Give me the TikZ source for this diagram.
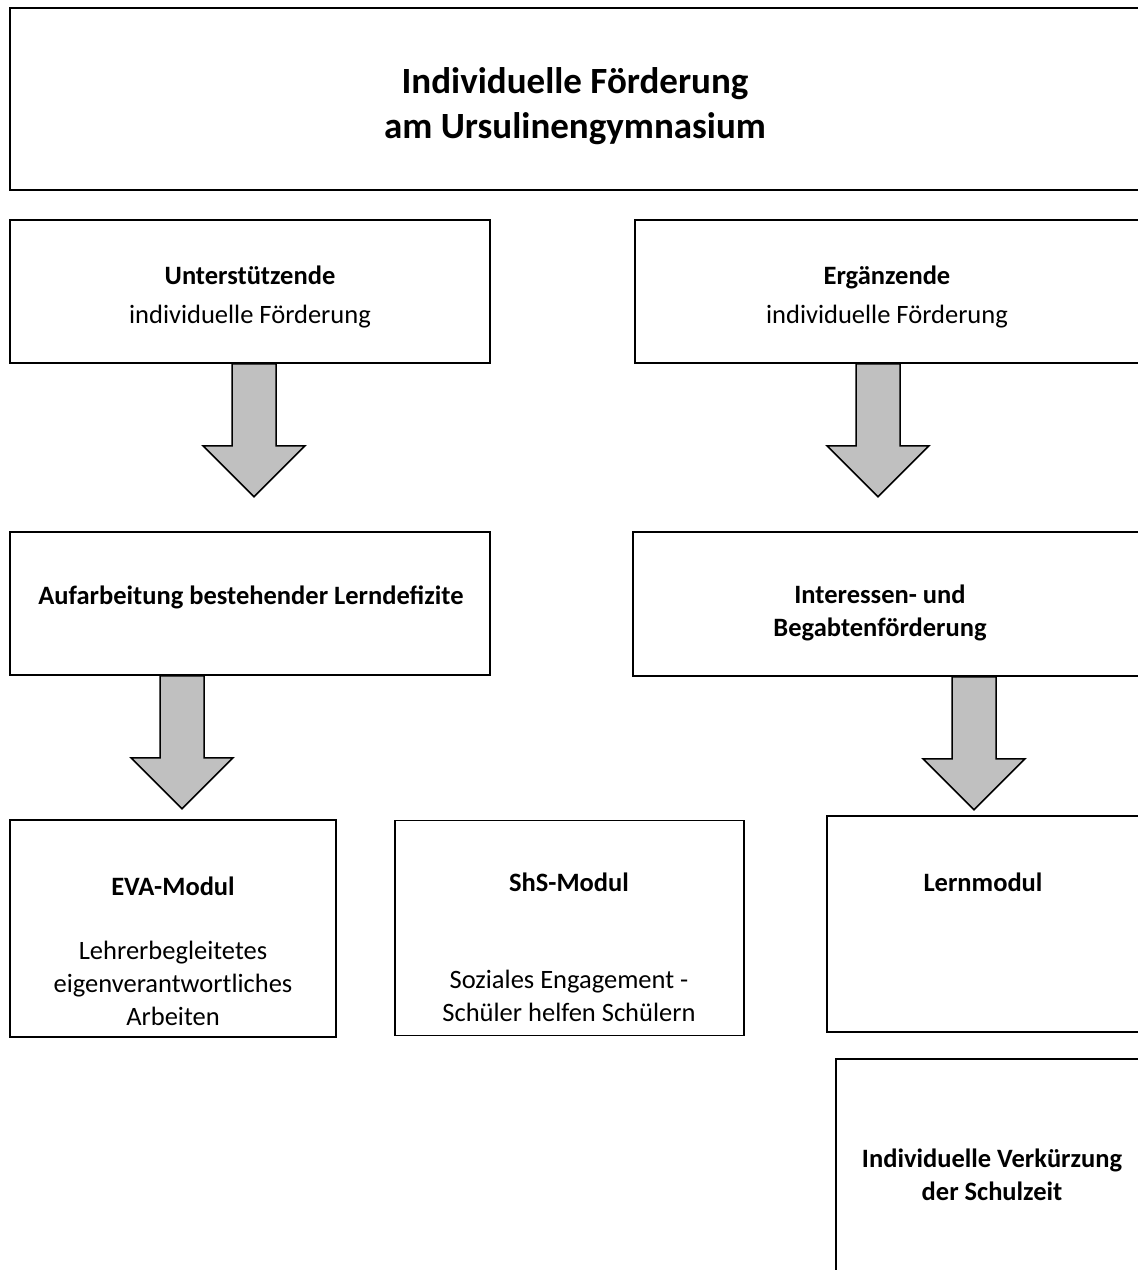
\documentclass[tikz,border=0pt]{standalone}
\usepackage{fontspec}
\setmainfont{Carlito}
\definecolor{arrowgray}{HTML}{C0C0C0}
\tikzset{
  box/.style={draw,line width=1.5pt,rectangle,inner sep=0pt},
  lbl/.style={align=center,font=\fontsize{26.5}{33}\selectfont},
  ttl/.style={align=center,font=\fontsize{37}{45}\selectfont\bfseries},
  arrowbody/.style={draw,line width=1.5pt,fill=arrowgray,line join=miter}
}
% fat arrow hanging down from a point
\newcommand{\fatarrow}[1]{\draw[arrowbody] (#1)++(-22,0)--++(0,82)--++(-29,0)--++(51,51)--++(51,-51)--++(-29,0)--++(0,-82)--cycle;}
\begin{document}
\begin{tikzpicture}[x=1pt,y=-1pt]
\useasboundingbox (0,0) rectangle (1138,1270);
\clip (0,0) rectangle (1138,1270);
\fill[white] (0,0) rectangle (1138,1270);
% boxes
\node[box,minimum width=1130pt,minimum height=182pt] (head) at (575,99) {};
\node[box,minimum width=480pt,minimum height=143pt] (unt) at (250,291.5) {};
\node[box,minimum width=505pt,minimum height=143pt] (erg) at (887.5,291.5) {};
\node[box,minimum width=480pt,minimum height=143pt] (auf) at (250,603.5) {};
\node[box,minimum width=507pt,minimum height=144pt] (int) at (886.5,604) {};
\node[box,minimum width=326pt,minimum height=217pt] (eva) at (173,928.5) {};
\node[box,minimum width=349pt,minimum height=215pt] (shs) at (569.5,928) {};
\node[box,minimum width=313pt,minimum height=216pt] (lern) at (983.5,924) {};
\node[box,minimum width=309pt,minimum height=231pt] (verk) at (990.5,1174.5) {};
% texts
\node[ttl] (headtxt) at (575,106) {Individuelle Förderung\\am Ursulinengymnasium};
\node[lbl] (unttxt) at (250,297) {\textbf{Unterstützende}\\[6pt]individuelle Förderung};
\node[lbl] (ergtxt) at (887,297) {\textbf{Ergänzende}\\[6pt]individuelle Förderung};
\node[lbl] (auftxt) at (251,597) {\textbf{Aufarbeitung bestehender Lerndefizite}};
\node[lbl] (inttxt) at (880,613) {\textbf{Interessen- und}\\\textbf{Begabtenförderung}};
\node[lbl] (evahd) at (173,886) {\textbf{EVA-Modul}};
\node[lbl] (evatxt) at (173,983) {Lehrerbegleitetes\\eigenverantwortliches\\Arbeiten};
\node[lbl] (shshd) at (569,882) {\textbf{ShS-Modul}};
\node[lbl] (shstxt) at (569,996) {Soziales Engagement -\\Schüler helfen Schülern};
\node[lbl] (lernhd) at (983,882) {\textbf{Lernmodul}};
\node[lbl] (verktxt) at (992,1175) {\textbf{Individuelle Verkürzung}\\\textbf{der Schulzeit}};
% arrows
\fatarrow{unt.south -| 254,0}
\fatarrow{erg.south -| 878,0}
\fatarrow{auf.south -| 182,0}
\fatarrow{int.south -| 974,0}
\end{tikzpicture}
\end{document}
